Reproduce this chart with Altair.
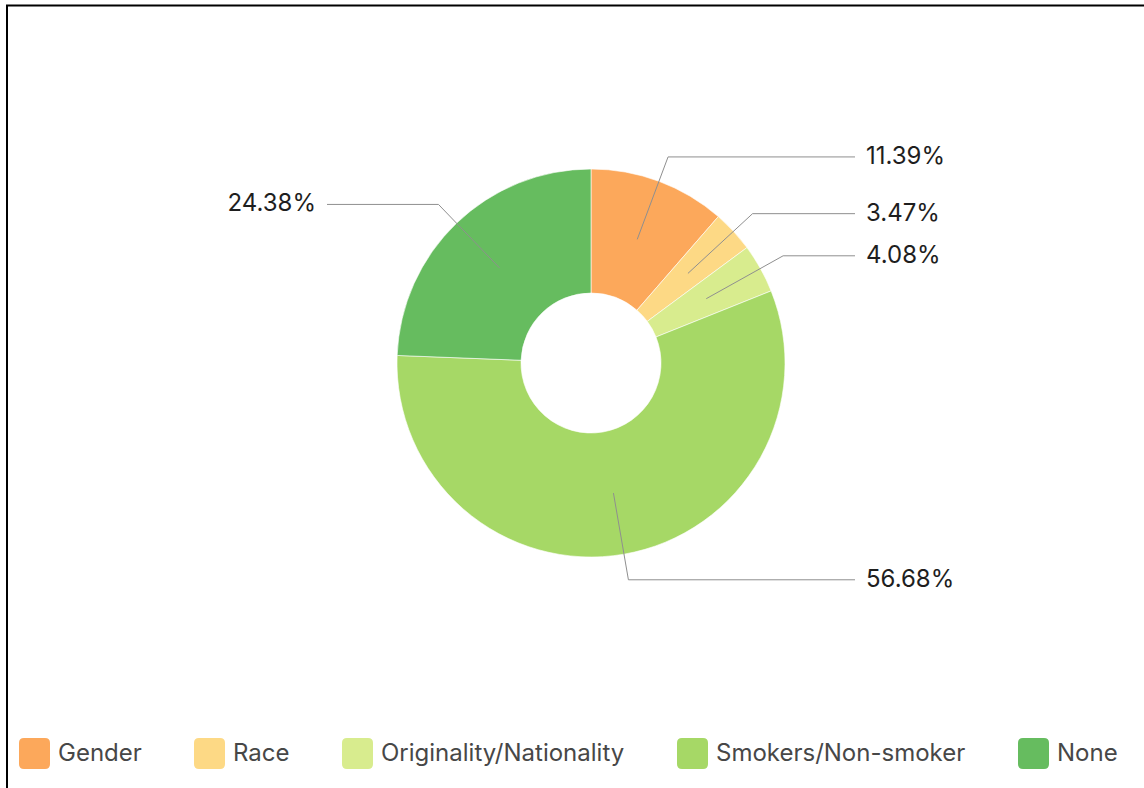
import altair as alt
import pandas as pd
import numpy as np

categories = ["Gender", "Race", "Originality/Nationality", "Smokers/Non-smoker", "None"]
values = [11.39, 3.47, 4.08, 56.68, 24.38]
labels = ["11.39%", "3.47%", "4.08%", "56.68%", "24.38%"]
colors = ["#FCA85B", "#FDD985", "#D8EC8E", "#A6D866", "#66BC5F"]

W, H = 1144, 788
CX, CY = 591, 363
R_OUT, R_IN = 194, 70
R_MID = (R_OUT + R_IN) / 2
R_ELBOW = 220
LINE_END = 264
LABEL_GAP = 11
FONT = "Inter"
FS = 24

total = sum(values)
cum = np.cumsum([0] + values[:-1])
mid = (cum + np.array(values) / 2) / total * 2 * np.pi

slices = pd.DataFrame({"category": categories, "value": values, "idx": list(range(len(values)))})

line_rows, label_rows = [], []
for c, a, l in zip(categories, mid, labels):
    sx, sy = CX + R_MID * np.sin(a), CY - R_MID * np.cos(a)
    ex, ey = CX + R_ELBOW * np.sin(a), CY - R_ELBOW * np.cos(a)
    side = 1 if np.sin(a) >= 0 else -1
    hx = CX + side * LINE_END
    line_rows += [dict(category=c, k=0, x=sx, y=sy),
                  dict(category=c, k=1, x=ex, y=ey),
                  dict(category=c, k=2, x=hx, y=ey)]
    label_rows.append(dict(category=c, label=l, x=hx + side * LABEL_GAP, y=ey,
                           side="right" if side > 0 else "left"))
lines_df = pd.DataFrame(line_rows)
labels_df = pd.DataFrame(label_rows)

xs = alt.Scale(domain=[0, W], nice=False, zero=False)
ys = alt.Scale(domain=[0, H], nice=False, zero=False, reverse=True)

ROUNDED = ("M-0.68,-1L0.68,-1Q1,-1 1,-0.68L1,0.68Q1,1 0.68,1L-0.68,1"
           "Q-1,1 -1,0.68L-1,-0.68Q-1,-1 -0.68,-1Z")

arcs = alt.Chart(slices).mark_arc(radius=R_OUT, radius2=R_IN, stroke="white", strokeWidth=0.6).encode(
    theta=alt.Theta("value:Q", stack=True),
    order=alt.Order("idx:Q"),
    color=alt.Color("category:N", sort=categories,
                    scale=alt.Scale(domain=categories, range=colors),
                    legend=alt.Legend(orient="none", legendX=19, legendY=738, direction="horizontal",
                                      title=None, symbolType=ROUNDED, symbolSize=961,
                                      symbolStrokeWidth=0, labelFontSize=FS, labelFont=FONT,
                                      labelColor="#474747", columnPadding=52, labelOffset=8,
                                      padding=0, labelLimit=400)),
    x=alt.value(CX), y=alt.value(CY),
)

leaders = alt.Chart(lines_df).mark_line(color="#8f8f8f", strokeWidth=1).encode(
    x=alt.X("x:Q", scale=xs, axis=None),
    y=alt.Y("y:Q", scale=ys, axis=None),
    detail="category:N",
    order="k:Q",
)

labels_right = alt.Chart(labels_df).transform_filter(alt.datum.side == "right").mark_text(
    align="left", baseline="middle", fontSize=FS, font=FONT, color="#1e1e1e"
).encode(x=alt.X("x:Q", scale=xs, axis=None), y=alt.Y("y:Q", scale=ys, axis=None), text="label:N")

labels_left = alt.Chart(labels_df).transform_filter(alt.datum.side == "left").mark_text(
    align="right", baseline="middle", fontSize=FS, font=FONT, color="#1e1e1e"
).encode(x=alt.X("x:Q", scale=xs, axis=None), y=alt.Y("y:Q", scale=ys, axis=None), text="label:N")

one = pd.DataFrame({"a": [0]})
frame_top = alt.Chart(one).mark_rule(color="black", strokeWidth=2).encode(
    x=alt.value(6), x2=alt.value(W), y=alt.value(5.5))
frame_left = alt.Chart(one).mark_rule(color="black", strokeWidth=2).encode(
    x=alt.value(7), y=alt.value(5), y2=alt.value(H))

chart = alt.layer(frame_top, frame_left, arcs, leaders, labels_right, labels_left).properties(
    width=W, height=H, padding=0, autosize="none"
).configure_view(stroke=None)

chart.save("out.html", embed_options={"renderer": "svg", "actions": False})
